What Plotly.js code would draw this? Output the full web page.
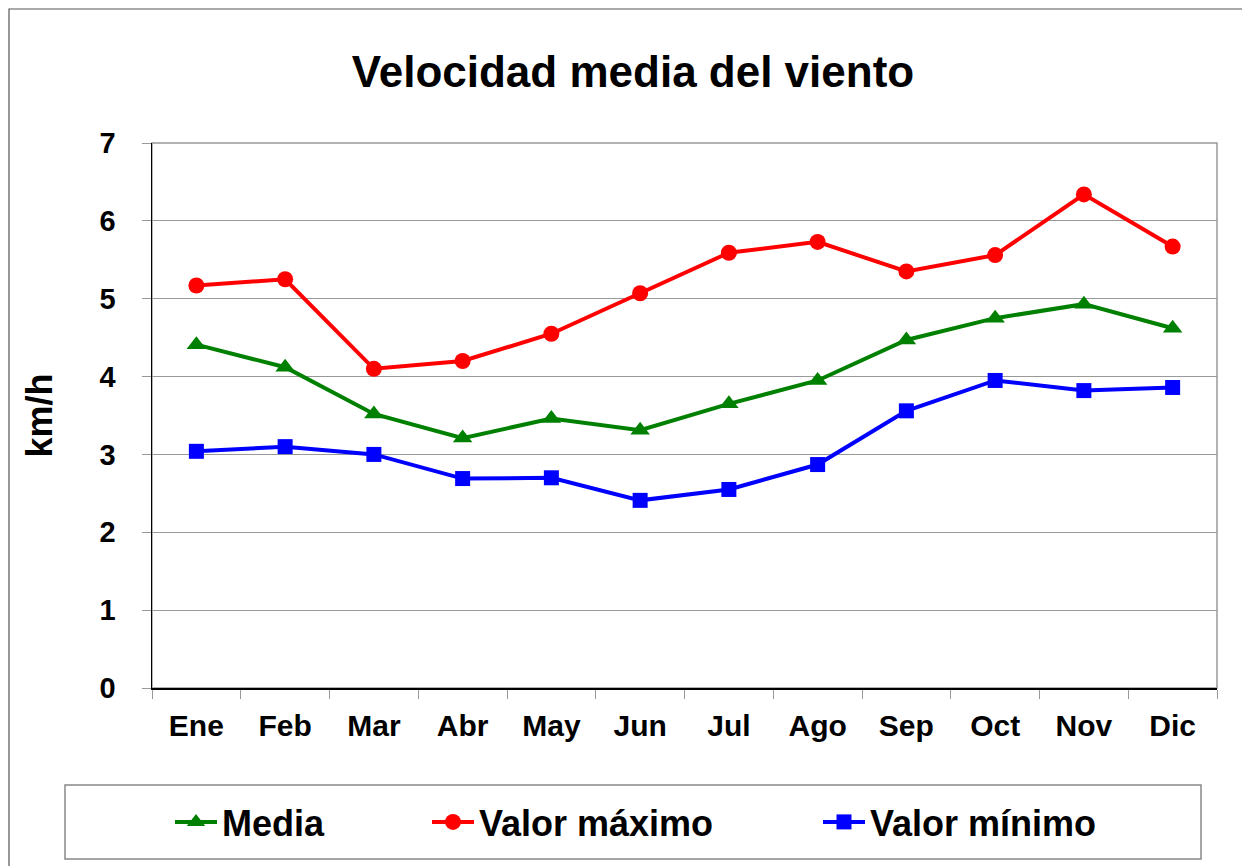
<!DOCTYPE html>
<html>
<head>
<meta charset="utf-8">
<script src="https://cdn.plot.ly/plotly-3.0.1.min.js"></script>
<style>html,body{margin:0;padding:0;background:#fff;}#chart{width:1242px;height:866px;}</style>
</head>
<body>
<div id="chart"></div>
<script>
const months = ['Ene','Feb','Mar','Abr','May','Jun','Jul','Ago','Sep','Oct','Nov','Dic'];
const media  = [4.41, 4.12, 3.52, 3.21, 3.46, 3.31, 3.65, 3.95, 4.47, 4.75, 4.93, 4.62];
const maximo = [5.17, 5.25, 4.10, 4.20, 4.55, 5.07, 5.59, 5.73, 5.35, 5.56, 6.34, 5.67];
const minimo = [3.04, 3.10, 3.00, 2.69, 2.70, 2.41, 2.55, 2.87, 3.56, 3.95, 3.82, 3.86];
const yTicks = [0, 1, 2, 3, 4, 5, 6, 7];

const FONT = 'Liberation Sans, Arial, sans-serif';
const W = 1242, H = 866;
const L = 152, R = 1217, T = 143, B = 688;
const px = v => (v - L) / (R - L);
const py = v => (B - v) / (B - T);

const traces = [
  {x: months, y: media, name: '<b>Media</b>', type: 'scatter', mode: 'lines+markers',
   line: {color: '#008000', width: 4}, marker: {symbol: 'triangle-up', size: 17, color: '#008000'},
   legend: 'legend', showlegend: true},
  {x: months, y: maximo, name: '<b>Valor máximo</b>', type: 'scatter', mode: 'lines+markers',
   line: {color: '#FF0000', width: 4}, marker: {symbol: 'circle', size: 16, color: '#FF0000'},
   legend: 'legend2', showlegend: true},
  {x: months, y: minimo, name: '<b>Valor mínimo</b>', type: 'scatter', mode: 'lines+markers',
   line: {color: '#0000FF', width: 4}, marker: {symbol: 'square', size: 15, color: '#0000FF'},
   legend: 'legend3', showlegend: true}
];

const legBase = {visible: true, orientation: 'h', xanchor: 'left', yanchor: 'middle', y: py(822),
  font: {family: FONT, size: 36, color: '#000'}, bgcolor: 'rgba(0,0,0,0)', borderwidth: 0,
  itemwidth: 42, tracegroupgap: 0};

const layout = {
  width: W, height: H, showlegend: true,
  margin: {l: L, r: W - R, t: T, b: H - B, pad: 0},
  paper_bgcolor: '#fff', plot_bgcolor: '#fff',
  font: {family: FONT, color: '#000'},
  title: {text: '<b>Velocidad media del viento</b>', font: {family: FONT, size: 44, color: '#000'},
          x: px(633), xref: 'paper', xanchor: 'center', y: 1 - 72 / H, yref: 'container', yanchor: 'middle'},
  xaxis: {
    type: 'category', range: [-0.5, 11.5], autorange: false, showgrid: false, zeroline: false,
    showline: true, linecolor: '#000', linewidth: 1.5,
    ticks: 'outside', tickson: 'boundaries', ticklen: 9, tickcolor: '#999', tickwidth: 1,
    tickfont: {family: FONT, size: 30, color: '#000'}, ticklabelstandoff: 10,
    tickvals: months, ticktext: months.map(m => '<b>' + m + '</b>')
  },
  yaxis: {
    range: [0, 7], autorange: false, showgrid: true, gridcolor: '#999', gridwidth: 1,
    zeroline: false, showline: true, linecolor: '#000', linewidth: 1.5,
    ticks: 'outside', ticklen: 9, tickcolor: '#999', tickwidth: 1,
    tickfont: {family: FONT, size: 29, color: '#000'}, ticklabelstandoff: 20,
    tickvals: yTicks, ticktext: yTicks.map(v => '<b>' + v + '</b>'),
    title: {text: '<b>km/h</b>', font: {family: FONT, size: 36, color: '#000'}, standoff: 36}
  },
  legend:  Object.assign({}, legBase, {x: px(170)}),
  legend2: Object.assign({}, legBase, {x: px(427)}),
  legend3: Object.assign({}, legBase, {x: px(818)}),
  shapes: [
    {type: 'rect', xref: 'paper', yref: 'paper', x0: px(9), x1: px(1260), y0: py(880), y1: py(9),
     line: {color: '#555', width: 1.2}, fillcolor: 'rgba(0,0,0,0)', layer: 'below'},
    {type: 'rect', xref: 'paper', yref: 'paper', x0: 0, x1: 1, y0: 0, y1: 1,
     line: {color: '#999', width: 1.5}, fillcolor: 'rgba(0,0,0,0)', layer: 'below'},
    {type: 'rect', xref: 'paper', yref: 'paper', x0: px(65), x1: px(1201), y0: py(859), y1: py(785),
     line: {color: '#888', width: 1.5}, fillcolor: 'rgba(0,0,0,0)', layer: 'below'}
  ]
};

Plotly.newPlot('chart', traces, layout, {displayModeBar: false, staticPlot: true});
</script>
</body>
</html>
